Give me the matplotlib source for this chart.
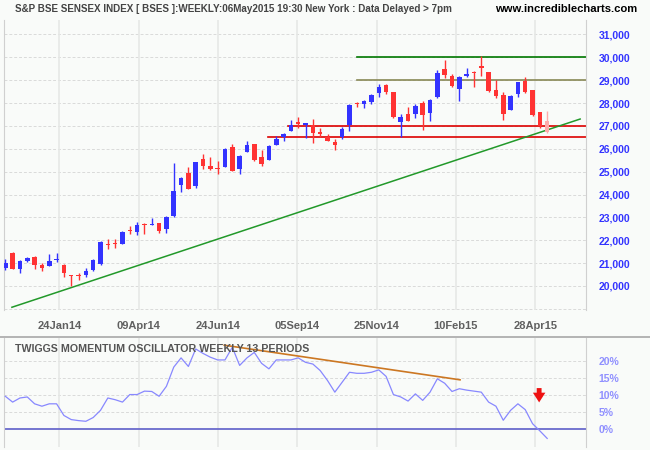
import numpy as np
import matplotlib
matplotlib.use("Agg")
import matplotlib.pyplot as pl

# weekly candles, Dec 2013 .. May 2015 (last one is the part week)
opens = [20800, 21430, 20760, 21110, 21270, 20920, 20890, 21120, 20920, 20480,
         20440, 20470, 20690, 20960, 21840, 21860, 21850, 22450, 22370, 22700,
         22680, 22740, 22480, 23060, 24400, 24930, 24380, 25550, 25240, 25120,
         25210, 26060, 25130, 25840, 26200, 25640, 25510, 26160, 26500, 26790,
         27170, 27040, 27020, 26740, 26500, 26290, 26500, 27020, 27980, 27970,
         28040, 28450, 28800, 28480, 27170, 27520, 27520, 28000, 27570, 28270,
         29480, 29180, 28620, 29180, 29370, 29600, 29350, 28570, 28350, 27700,
         28400, 28960, 28550, 27600, 27210]
highs = [21180, 21470, 21150, 21270, 21290, 21000, 21400, 21440, 20940, 20480,
         20560, 20800, 21160, 21970, 22050, 22050, 22390, 22620, 22800, 22740,
         22970, 22760, 23060, 25380, 24760, 25200, 25440, 25770, 25640, 25460,
         26030, 26200, 25720, 26320, 26220, 25940, 26180, 26560, 26700, 27240,
         27390, 27140, 27300, 26890, 26640, 26440, 26950, 27940, 28050, 28140,
         28400, 28810, 28840, 28490, 27500, 27840, 27940, 28070, 28170, 29430,
         29880, 29260, 29180, 29510, 29400, 30060, 29360, 29000, 28470, 28330,
         28930, 29150, 28560, 27610, 27650]
lows = [20710, 20730, 20580, 21060, 20760, 20670, 20870, 21040, 20380, 20000,
        20250, 20390, 20660, 20930, 21600, 21660, 21820, 22270, 22240, 22270,
        22680, 22330, 22330, 23000, 24120, 24240, 24300, 25100, 25070, 24910,
        25210, 25010, 24910, 25840, 25480, 25260, 25510, 26160, 26350, 26790,
        26900, 26480, 26260, 26500, 26320, 25940, 26420, 26760, 27830, 27790,
        27970, 28270, 28380, 27340, 26500, 27220, 27340, 26820, 27220, 28230,
        29090, 28710, 28100, 29150, 28710, 29190, 28490, 28230, 27270, 27680,
        28270, 28460, 27440, 26900, 26690]
closes = [20990, 20760, 21110, 21220, 20920, 20800, 21090, 21150, 20560, 20420,
          20420, 20670, 21140, 21920, 21810, 21840, 22360, 22390, 22650, 22680,
          22710, 22420, 23020, 24150, 24710, 24240, 25420, 25260, 25110, 25100,
          25990, 25040, 25680, 26160, 25520, 25350, 26120, 26420, 26640, 27020,
          27090, 27120, 26670, 26630, 26350, 26150, 26860, 27910, 27960, 28100,
          28350, 28700, 28490, 27390, 27370, 27220, 27880, 27490, 28130, 29310,
          29220, 28750, 29120, 29280, 29300, 29510, 28540, 28320, 27500, 28320,
          28920, 28490, 27490, 27010, 26740]

# twiggs momentum, 13 weeks (%)
momentum = [9.6, 7.9, 9.1, 9.4, 7.4, 6.7, 7.4, 7.4, 4.0, 2.8,
            2.5, 2.3, 3.4, 5.5, 9.1, 8.6, 7.9, 10.1, 10.1, 11.1,
            11.0, 9.6, 12.5, 18.1, 20.8, 18.3, 23.4, 22.1, 21.0, 20.2,
            20.2, 23.9, 18.6, 20.8, 22.4, 19.2, 17.6, 20.2, 20.2, 20.2,
            20.8, 19.5, 19.0, 17.1, 14.2, 10.8, 13.7, 16.6, 16.3, 16.3,
            16.6, 17.3, 15.4, 10.1, 9.4, 8.2, 10.3, 8.4, 10.8, 14.7,
            13.4, 11.0, 11.8, 11.4, 11.1, 10.8, 7.9, 6.7, 2.6, 5.5,
            7.4, 5.7, 1.6, -0.5, -2.7]

date_labels = ["24Jan14", "09Apr14", "24Jun14", "05Sep14", "25Nov14", "10Feb15", "28Apr15"]
price_ticks = list(range(20000, 31001, 1000))
osc_ticks = [0, 5, 10, 15, 20]

# support / resistance lines: (level, first week, colour)
levels = [(30000, 48.0, "#007700"), (29000, 48.0, "#888855"),
          (27000, 38.6, "#dd0000"), (26500, 35.9, "#dd0000")]
trend = ([0.9, 78.5], [19070, 27300])
osc_trend = ([29.9, 62.1], [24.5, 14.4])

fnt = ["Liberation Sans", "DejaVu Sans"]
pl.rcParams["font.family"] = fnt
pl.rcParams["font.weight"] = "bold"

bg = "#f9fbf9"
W, H = 650.0, 450.0
fig = pl.figure(figsize=(6.5, 4.5), dpi=100, facecolor=bg)

def axes_px(x0, y0, x1, y1):
    return fig.add_axes([x0 / W, 1 - y1 / H, (x1 - x0) / W, (y1 - y0) / H])

n = len(closes)
idx = np.arange(n)
xlim = (-0.18, 79.3)
tick_pos = 7.38 + 10.83 * np.arange(len(date_labels))

ax = axes_px(4, 20, 586, 310)
ax.set_facecolor(bg)
ax.set_xlim(*xlim)
ax.set_ylim(18950, 31630)
for y in range(19000, 31001, 1000):
    ax.axhline(y, color="#dadada", lw=0.7, ls=(0, (3, 2)), zorder=0)
for t in tick_pos:
    ax.axvline(t, color="#e6e8e6", lw=1.2, zorder=0)

o = np.array(opens); c = np.array(closes)
cols = np.where(c >= o, "#3333ff", "#ff3333").tolist()
cols[-1] = "#ffaaaa"
ax.vlines(idx, lows, highs, colors=cols, lw=1.0, zorder=3)
body = np.maximum(np.abs(c - o), 45)
ax.bar(idx, body, bottom=np.minimum(o, c), width=0.62, color=cols, zorder=4)

for lev, start, col in levels:
    ax.plot([start, xlim[1]], [lev, lev], color=col, lw=1.2, zorder=2)
ax.plot(trend[0], trend[1], color="#22992a", lw=1.1, zorder=2)

ax.yaxis.tick_right()
ax.set_yticks(price_ticks)
ax.set_yticklabels(["{:,}".format(v) for v in price_ticks], color="#3333ff", fontsize=7.5)
ax.set_xticks(tick_pos)
ax.set_xticklabels(date_labels, color="#606060", fontsize=8)
ax.tick_params(length=0, pad=8)
ax.tick_params(axis="y", pad=9)
for s in ["top", "bottom"]:
    ax.spines[s].set_visible(False)
for s in ["left", "right"]:
    ax.spines[s].set_color("#d0d0d0")

fig.text(15 / W, 1 - 9 / H, "S&P BSE SENSEX INDEX [ BSES ]:WEEKLY:06May2015 19:30 New York : Data Delayed > 7pm",
         fontsize=7.1, color="#444444", va="center")
fig.text(637 / W, 1 - 9 / H, "www.incrediblecharts.com", fontsize=8.1, color="black",
         va="center", ha="right")
fig.add_artist(pl.Line2D([0, 1], [1 - 337 / H, 1 - 337 / H], color="#a8a8a8", lw=1.2))

ax2 = axes_px(4, 338, 586, 447)
ax2.set_facecolor(bg)
ax2.set_xlim(*xlim)
ax2.set_ylim(-5.2, 26.6)
for y in osc_ticks[1:]:
    ax2.axhline(y, color="#dadada", lw=0.7, ls=(0, (3, 2)), zorder=0)
for t in tick_pos:
    ax2.axvline(t, color="#e6e8e6", lw=1.2, zorder=0)
ax2.axhline(0, color="#6a6acc", lw=1.3, zorder=1)
ax2.plot(idx, momentum, color="#8888ff", lw=0.9, zorder=3)
ax2.plot(osc_trend[0], osc_trend[1], color="#cc7722", lw=1.2, zorder=2)
ax2.annotate("", xy=(72.9, 7.0), xytext=(72.9, 12.8),
             arrowprops=dict(arrowstyle="simple,head_width=0.9,head_length=0.7,tail_width=0.35",
                             color="#ee1111", lw=0))
ax2.yaxis.tick_right()
ax2.set_yticks(osc_ticks)
ax2.set_yticklabels(["%d%%" % v for v in osc_ticks], color="#9090ff", fontsize=7.5)
ax2.set_xticks([])
ax2.tick_params(length=0, pad=9)
for s in ["top", "bottom"]:
    ax2.spines[s].set_visible(False)
for s in ["left", "right"]:
    ax2.spines[s].set_color("#d0d0d0")
ax2.text(11 / 582, 0.9, "TWIGGS MOMENTUM OSCILLATOR WEEKLY 13 PERIODS", transform=ax2.transAxes,
         fontsize=7.7, color="#555555", va="center")

fig.savefig("out.png", dpi=100, facecolor=bg)
